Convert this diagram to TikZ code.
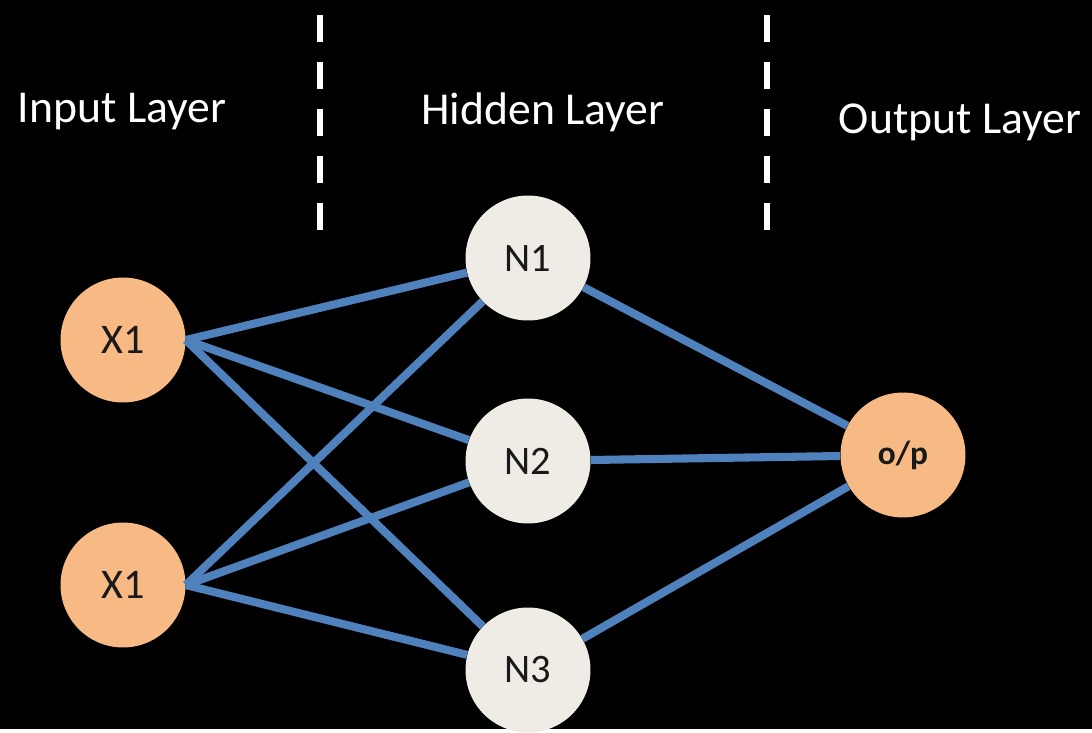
\documentclass[tikz,border=0pt]{standalone}
\usepackage{fontspec}
\setmainfont{Carlito}
\usetikzlibrary{calc}

\definecolor{edgeblue}{RGB}{79,129,189}
\definecolor{inorange}{RGB}{248,186,132}
\definecolor{hidcream}{RGB}{238,236,228}

\begin{document}
\begin{tikzpicture}[x=0.02cm,y=-0.02cm,
    neuron/.style={circle,minimum size=2.5cm,inner sep=0pt,text=black!90},
    edge/.style={edgeblue,line width=4.6pt},
    divider/.style={white,line width=3.6pt,dash pattern=on 0.54cm off 0.4cm},
    title/.style={white,font=\fontsize{26}{30}\selectfont}]
  % black background fixes the size
  \fill[black] (0,0) rectangle (1092,729);

  % layer titles and dividers
  \node[title] (tin) at (122,112) {Input Layer};
  \node[title] (thid) at (543,112) {Hidden Layer};
  \node[title] (tout) at (960,122) {Output Layer};
  \coordinate (d1a) at (320,15);
  \coordinate (d1b) at (320,230);
  \coordinate (d2a) at (767,15);
  \coordinate (d2b) at (767,230);
  \draw[divider] (d1a) -- (d1b);
  \draw[divider] (d2a) -- (d2b);

  % input neurons
  \node[neuron,fill=inorange,font=\fontsize{24}{28}\selectfont] (x1) at (123,340) {X1};
  \node[neuron,fill=inorange,font=\fontsize{24}{28}\selectfont] (x2) at (123,585) {X1};

  % hidden neurons
  \node[neuron,fill=hidcream,font=\fontsize{23}{28}\selectfont] (n1) at (528,258) {N1};
  \node[neuron,fill=hidcream,font=\fontsize{23}{28}\selectfont] (n2) at (528,461) {N2};
  \node[neuron,fill=hidcream,font=\fontsize{23}{28}\selectfont] (n3) at (528,670) {N3};

  % output neuron
  \node[neuron,fill=inorange,font=\bfseries\fontsize{19}{22}\selectfont] (op) at (903,455) {o/p};

  % connections
  \foreach \s in {x1,x2}
    \foreach \t in {n1,n2,n3}
      \draw[edge] (\s.east) -- (\t);
  \foreach \t in {n1,n2,n3}
    \draw[edge] (\t) -- (op);
\end{tikzpicture}
\end{document}
